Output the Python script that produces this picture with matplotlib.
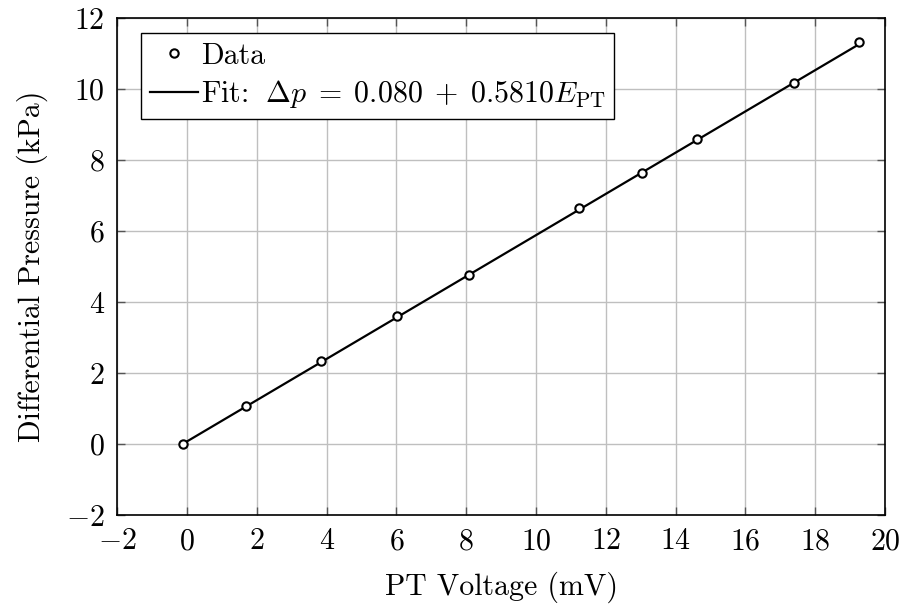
import matplotlib
matplotlib.use("Agg")
import matplotlib.pyplot as plt
import numpy as np

plt.rcParams['font.family'] = 'serif'
plt.rcParams['font.serif'] = ['cmr10']
plt.rcParams['mathtext.fontset'] = 'cm'
plt.rcParams['axes.formatter.use_mathtext'] = True
plt.rcParams['font.size'] = 21.5

voltage = [-0.1, 1.68, 3.85, 6.02, 8.08, 11.23, 13.03, 14.62, 17.38, 19.26]
pressure = [0.0, 1.07, 2.34, 3.61, 4.76, 6.65, 7.65, 8.61, 10.19, 11.32]
fit_intercept = 0.080
fit_slope = 0.5810

xticks = list(range(-2, 21, 2))
yticks = list(range(-2, 13, 2))

fig = plt.figure(figsize=(9.04, 6.08), dpi=100)
ax = fig.add_axes([0.1296, 0.1525, 0.8494, 0.8175])

ax.plot(voltage, pressure, linestyle='none', marker='o', markersize=6,
        markerfacecolor='white', markeredgecolor='black', markeredgewidth=1.5,
        label='Data', zorder=4)
xf = np.array([min(voltage), max(voltage)])
ax.plot(xf, fit_intercept + fit_slope * xf, color='black', linewidth=1.6,
        label=r'Fit: $\;\Delta p \;=\; 0.080 \;+\; 0.5810E_{\mathrm{PT}}$', zorder=3)

ax.set_xlim(-2, 20)
ax.set_ylim(-2, 12)
ax.set_xticks(xticks)
ax.set_yticks(yticks)
ax.grid(True, color='#bfbfbf', linewidth=1.0)
ax.set_axisbelow(True)
ax.tick_params(direction='in', top=True, right=True, length=6, width=1.0,
               color='#555555')
ax.tick_params(axis='x', pad=9)
ax.tick_params(axis='y', pad=9)
for s in ax.spines.values():
    s.set_linewidth(1.2)

ax.set_xlabel('PT Voltage (mV)', labelpad=12)
ax.set_ylabel('Differential Pressure (kPa)', labelpad=13)

leg = ax.legend(loc='upper left', bbox_to_anchor=(0.031, 0.97), fancybox=False,
                framealpha=1, edgecolor='black', borderpad=0.3,
                handlelength=1.6, handletextpad=0.1, labelspacing=0.3,
                borderaxespad=0)
leg.get_frame().set_linewidth(1.0)

fig.savefig('out.png', dpi=100)
